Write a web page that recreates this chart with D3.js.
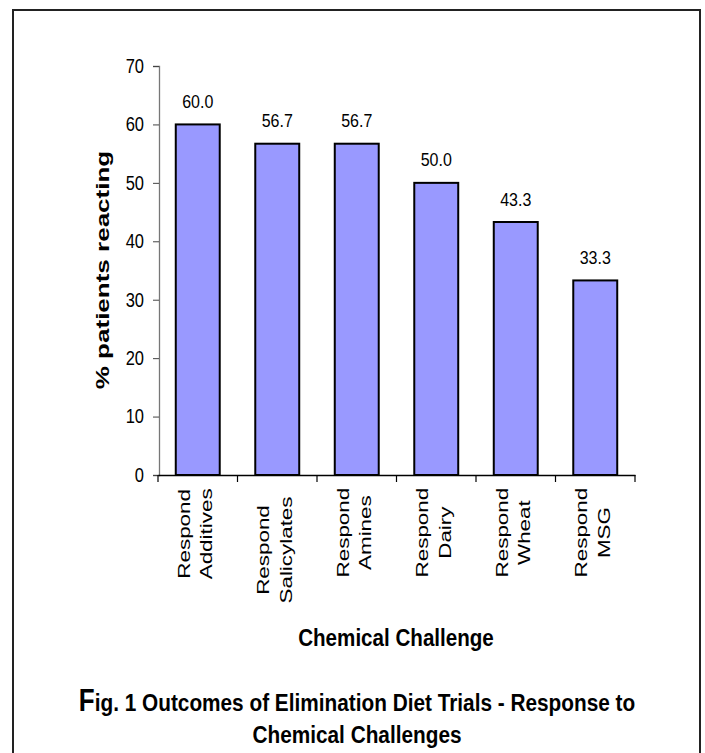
<!DOCTYPE html>
<html>
<head>
<meta charset="utf-8">
<script src="https://cdn.jsdelivr.net/npm/d3@7"></script>
<style>
  body { margin: 0; background: #fff; }
  text { font-family: "Liberation Sans", Arial, sans-serif; fill: #000; }
</style>
</head>
<body>
<div id="chart"></div>
<script>
// data
var categories = ["Respond Additives", "Respond Salicylates", "Respond Amines",
                  "Respond Dairy", "Respond Wheat", "Respond MSG"];
var values = [60.0, 56.7, 56.7, 50.0, 43.3, 33.3];
var yTicks = [0, 10, 20, 30, 40, 50, 60, 70];

var W = 705, H = 753;

var svg = d3.select("#chart").append("svg")
  .attr("width", W)
  .attr("height", H);

// outer frame
svg.append("rect")
  .attr("x", 13).attr("y", 10)
  .attr("width", 687).attr("height", 770)
  .attr("fill", "none")
  .attr("stroke", "#222")
  .attr("stroke-width", 2);

var y = d3.scaleLinear().domain([0, 70]).range([475, 66]);
var x = d3.scaleBand().domain(categories).range([158, 635])
  .paddingInner(0.447).paddingOuter(0.2235);

// text stretched vertically (the original picture is a bit tall)
function stext(parent, px, py, str, size, k, opts) {
  opts = opts || {};
  var g = parent.append("g")
    .attr("transform", "translate(" + px + "," + py + ") scale(1," + k + ")");
  var t = g.append("text")
    .attr("font-size", size)
    .attr("font-weight", opts.bold ? "bold" : "normal")
    .attr("text-anchor", opts.anchor || "middle")
    .attr("y", opts.dy || 0)
    .text(str);
  if (opts.rotate) t.attr("transform", "rotate(-90)");
  return t;
}

// y axis
var yAxis = svg.append("g")
  .attr("transform", "translate(159,0)")
  .call(d3.axisLeft(y).tickValues(yTicks).tickSize(6).tickPadding(9));
yAxis.select(".domain").attr("stroke", "#777").attr("stroke-width", 1.3);
yAxis.selectAll(".tick line").attr("stroke", "#444");
yAxis.selectAll(".tick text")
  .attr("font-size", 16.5)
  .attr("font-family", "Liberation Sans, Arial, sans-serif")
  .attr("fill", "#000")
  .attr("transform", "scale(1,1.2)");

// bars
svg.selectAll(".bar")
  .data(values)
  .enter().append("rect")
  .attr("class", "bar")
  .attr("x", function(d, i) { return x(categories[i]); })
  .attr("width", x.bandwidth())
  .attr("y", function(d) { return y(d); })
  .attr("height", function(d) { return y(0) - y(d); })
  .attr("fill", "#9999FF")
  .attr("stroke", "#000")
  .attr("stroke-width", 2);

// x axis
var xAxis = svg.append("g")
  .attr("transform", "translate(0," + y(0) + ")")
  .call(d3.axisBottom(x).tickSize(0).tickFormat(""));
xAxis.select(".domain").attr("stroke", "#000").attr("stroke-width", 1.3);

var bounds = d3.range(categories.length + 1).map(function(i) {
  return x.range()[0] + i * x.step();
});
xAxis.selectAll(".bound")
  .data(bounds)
  .enter().append("line")
  .attr("x1", function(d) { return d; })
  .attr("x2", function(d) { return d; })
  .attr("y1", 0).attr("y2", 7)
  .attr("stroke", "#000").attr("stroke-width", 1.2);

// value labels
values.forEach(function(v, i) {
  var cx = x(categories[i]) + x.bandwidth() / 2;
  stext(svg, cx, y(v) - 16.5, v.toFixed(1), 16, 1.16);
});

// category labels, two lines, rotated
categories.forEach(function(c, i) {
  var cx = x(c) + x.bandwidth() / 2;
  var lines = c.split(" ");
  var k = 1.4;
  var tmp = lines.map(function(s, j) {
    return stext(svg, cx, 0, s, 16, k, {rotate: true, dy: j === 0 ? -8 : 14.5});
  });
  var len = d3.max(tmp, function(t) { return t.node().getComputedTextLength(); }) * k;
  var cy = 443 + len;
  tmp.forEach(function(t) {
    d3.select(t.node().parentNode)
      .attr("transform", "translate(" + cx + "," + cy + ") scale(1," + k + ")");
  });
});

// axis titles
stext(svg, 109, 270, "% patients reacting", 19, 1.37, {rotate: true, bold: true});
stext(svg, 396, 646, "Chemical Challenge", 20.6, 1.18, {bold: true});

// caption
var cap = stext(svg, 357, 711, "", 20.8, 1.18, {bold: true});
cap.append("tspan").attr("font-size", 26).text("F");
cap.append("tspan").text("ig. 1 Outcomes of Elimination Diet Trials - Response to");
stext(svg, 357, 743, "Chemical Challenges", 20.8, 1.18, {bold: true});
</script>
</body>
</html>
